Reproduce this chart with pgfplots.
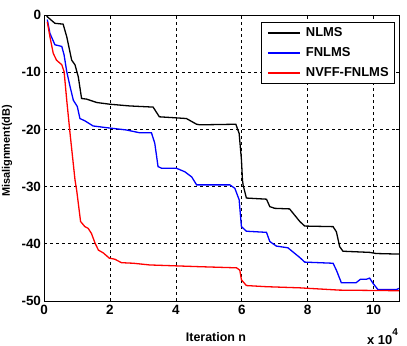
\documentclass[border=0pt]{standalone}
\usepackage{fontspec}
\setmainfont{Liberation Sans}
\usepackage{pgfplots}
\pgfplotsset{compat=1.18}
\begin{document}
\begin{tikzpicture}
\useasboundingbox (-44bp,-45bp) rectangle (363bp,301bp);
\begin{axis}[
  at={(0,0)}, anchor=south west,
  scale only axis, width=355bp, height=286bp,
  xmin=0, xmax=10.77, ymin=-50, ymax=0,
  xtick={0,2,4,6,8,10}, ytick={-50,-40,...,0},
  grid=major,
  major grid style={black, dash pattern=on 3bp off 3bp, line width=0.6bp},
  axis line style={black, line width=0.9bp},
  tick align=inside, major tick length=3bp,
  tick style={black, line width=0.6bp},
  /pgf/number format/assume math mode=true,
  ticklabel style={font=\fontsize{13.5}{15}\selectfont\bfseries},
  xticklabel style={yshift=-1bp},
  yticklabel style={xshift=0.5bp},
  xlabel={Iteration n},
  xlabel style={at={(rel axis cs:0.4845,-0.1259)}, anchor=center, font=\fontsize{12.5}{14}\selectfont\bfseries},
  ylabel={Misalignment(dB)},
  ylabel style={at={(rel axis cs:-0.1042,0.5245)}, anchor=center, font=\fontsize{11}{13}\selectfont\bfseries},
  legend style={at={(rel axis cs:0.9887,0.9755)}, anchor=north east, draw=black, line width=0.7bp, fill=white,
    font=\fontsize{13}{15}\selectfont\bfseries, inner xsep=6bp, inner ysep=5bp, row sep=9.5bp, column sep=5bp,
    nodes={inner sep=0pt}, cells={anchor=west}},
  legend image code/.code={\draw[#1, line width=2bp] (0bp,0bp) -- (32bp,0bp);},
  every axis plot/.append style={line width=1.3bp},
]
\addplot[black] coordinates {
(0.08,-0.2) (0.33,-1.45) (0.58,-1.6) (0.69,-3.8) (0.84,-7.9) (0.94,-8.7) (1.04,-10.8) (1.14,-14.6) (1.29,-14.7) (1.6,-15.3) (2.0,-15.6) (2.6,-15.9) (3.31,-16.1) (3.5,-17.8) (3.92,-17.95) (4.32,-18.1) (4.63,-19.1) (4.73,-19.2) (5.82,-19.1) (5.92,-20.7) (5.99,-25.3) (6.02,-28.8) (6.04,-29.7) (6.14,-32.0) (6.75,-32.2) (6.85,-33.5) (7.0,-33.8) (7.45,-33.9) (7.76,-36.1) (7.91,-36.9) (8.77,-37.0) (8.87,-37.9) (8.97,-40.5) (9.07,-41.3) (9.88,-41.5) (10.08,-41.7) (10.77,-41.8)
};
\addlegendentry{NLMS}
\addplot[blue] coordinates {
(0.1,-0.8) (0.18,-3.2) (0.33,-5.2) (0.54,-5.5) (0.61,-7.0) (0.69,-9.9) (0.79,-12.5) (0.89,-14.9) (1.01,-16.0) (1.09,-18.1) (1.24,-18.5) (1.49,-19.4) (1.9,-19.7) (2.5,-20.1) (2.91,-20.6) (3.26,-20.6) (3.36,-22.4) (3.46,-26.5) (3.57,-26.8) (4.02,-26.8) (4.27,-27.4) (4.48,-28.3) (4.63,-29.7) (5.64,-29.7) (5.79,-30.3) (5.92,-32.3) (5.99,-37.0) (6.14,-37.8) (6.75,-38.0) (6.85,-39.6) (7.05,-40.4) (7.4,-40.7) (7.76,-42.4) (7.91,-43.2) (8.77,-43.4) (8.87,-44.6) (9.02,-46.8) (9.47,-46.8) (9.6,-46.2) (9.78,-46.2) (9.88,-46.0) (9.98,-46.9) (10.13,-48.0) (10.69,-48.0) (10.77,-47.8)
};
\addlegendentry{FNLMS}
\addplot[red] coordinates {
(0.1,-1.2) (0.18,-3.8) (0.28,-6.7) (0.38,-7.9) (0.54,-8.7) (0.61,-9.9) (0.69,-14.9) (0.79,-20.7) (0.94,-28.8) (0.99,-30.6) (1.04,-32.9) (1.11,-36.1) (1.24,-37.0) (1.34,-37.3) (1.44,-38.2) (1.55,-39.9) (1.65,-41.1) (1.8,-41.6) (1.98,-42.5) (2.15,-42.7) (2.35,-43.3) (2.71,-43.4) (3.21,-43.7) (3.72,-43.8) (4.71,-44.0) (5.84,-44.2) (5.94,-44.6) (5.99,-46.3) (6.14,-47.3) (6.75,-47.5) (7.76,-47.7) (8.97,-48.1) (10.77,-48.2)
};
\addlegendentry{NVFF-FNLMS}
\end{axis}
\node[anchor=base west, font=\fontsize{13}{15}\selectfont\bfseries, inner sep=0pt] at (323bp,-43bp) {x 10\raisebox{9bp}{\fontsize{10}{11}\selectfont 4}};
\end{tikzpicture}
\end{document}
